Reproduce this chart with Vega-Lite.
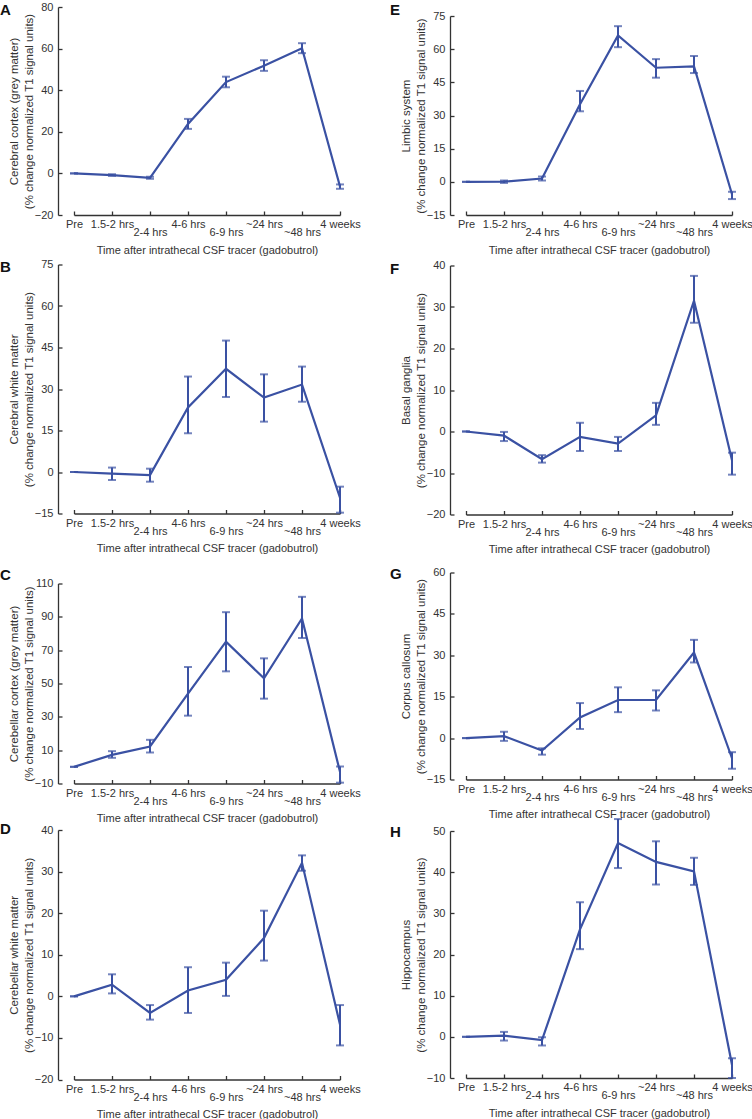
{
  "$schema": "https://vega.github.io/schema/vega-lite/v6.json",
  "background": "white",
  "padding": {"left": 0, "top": 1, "right": 0, "bottom": 0},
  "data": {"values": [
    {"panel": "A", "time": "Pre", "mean": 0, "lo": 0, "hi": 0},
    {"panel": "A", "time": "1.5-2 hrs", "mean": -0.8, "lo": -1.2, "hi": -0.4},
    {"panel": "A", "time": "2-4 hrs", "mean": -2.1, "lo": -2.6, "hi": -1.6},
    {"panel": "A", "time": "4-6 hrs", "mean": 23.8, "lo": 21.4, "hi": 26.2},
    {"panel": "A", "time": "6-9 hrs", "mean": 43.9, "lo": 41.4, "hi": 46.5},
    {"panel": "A", "time": "~24 hrs", "mean": 51.8, "lo": 49.3, "hi": 54.4},
    {"panel": "A", "time": "~48 hrs", "mean": 60.2, "lo": 57.8, "hi": 62.6},
    {"panel": "A", "time": "4 weeks", "mean": -6.3, "lo": -7.4, "hi": -5.3},
    {"panel": "B", "time": "Pre", "mean": 0, "lo": 0, "hi": 0},
    {"panel": "B", "time": "1.5-2 hrs", "mean": -0.6, "lo": -2.9, "hi": 1.6},
    {"panel": "B", "time": "2-4 hrs", "mean": -1.1, "lo": -3.5, "hi": 1.2},
    {"panel": "B", "time": "4-6 hrs", "mean": 23.3, "lo": 14.0, "hi": 34.5},
    {"panel": "B", "time": "6-9 hrs", "mean": 37.3, "lo": 27.1, "hi": 47.5},
    {"panel": "B", "time": "~24 hrs", "mean": 26.9, "lo": 18.2, "hi": 35.3},
    {"panel": "B", "time": "~48 hrs", "mean": 31.6, "lo": 25.4, "hi": 38.1},
    {"panel": "B", "time": "4 weeks", "mean": -9.3, "lo": -14.7, "hi": -5.3},
    {"panel": "C", "time": "Pre", "mean": 0, "lo": 0, "hi": 0},
    {"panel": "C", "time": "1.5-2 hrs", "mean": 7.2, "lo": 5.4, "hi": 9.4},
    {"panel": "C", "time": "2-4 hrs", "mean": 12.2, "lo": 8.6, "hi": 16.2},
    {"panel": "C", "time": "4-6 hrs", "mean": 43.9, "lo": 30.7, "hi": 59.9},
    {"panel": "C", "time": "6-9 hrs", "mean": 75.1, "lo": 57.3, "hi": 92.8},
    {"panel": "C", "time": "~24 hrs", "mean": 53.1, "lo": 40.9, "hi": 65.1},
    {"panel": "C", "time": "~48 hrs", "mean": 89.0, "lo": 77.3, "hi": 102.0},
    {"panel": "C", "time": "4 weeks", "mean": -3.0, "lo": -9.5, "hi": 0.2},
    {"panel": "D", "time": "Pre", "mean": 0, "lo": 0, "hi": 0},
    {"panel": "D", "time": "1.5-2 hrs", "mean": 2.8, "lo": 0.7, "hi": 5.3},
    {"panel": "D", "time": "2-4 hrs", "mean": -4.0, "lo": -5.6, "hi": -2.1},
    {"panel": "D", "time": "4-6 hrs", "mean": 1.4, "lo": -4.0, "hi": 7.0},
    {"panel": "D", "time": "6-9 hrs", "mean": 4.0, "lo": 0.1, "hi": 8.1},
    {"panel": "D", "time": "~24 hrs", "mean": 14.0, "lo": 8.6, "hi": 20.6},
    {"panel": "D", "time": "~48 hrs", "mean": 32.1, "lo": 30.2, "hi": 33.9},
    {"panel": "D", "time": "4 weeks", "mean": -6.8, "lo": -11.8, "hi": -2.1},
    {"panel": "E", "time": "Pre", "mean": 0, "lo": 0, "hi": 0},
    {"panel": "E", "time": "1.5-2 hrs", "mean": 0.1, "lo": -0.5, "hi": 0.6},
    {"panel": "E", "time": "2-4 hrs", "mean": 1.5, "lo": 0.6, "hi": 2.4},
    {"panel": "E", "time": "4-6 hrs", "mean": 35.1, "lo": 31.9, "hi": 41.1},
    {"panel": "E", "time": "6-9 hrs", "mean": 66.2, "lo": 60.9, "hi": 70.4},
    {"panel": "E", "time": "~24 hrs", "mean": 51.6, "lo": 47.1, "hi": 55.5},
    {"panel": "E", "time": "~48 hrs", "mean": 52.2, "lo": 49.2, "hi": 56.9},
    {"panel": "E", "time": "4 weeks", "mean": -5.6, "lo": -7.8, "hi": -4.5},
    {"panel": "F", "time": "Pre", "mean": 0, "lo": 0, "hi": 0},
    {"panel": "F", "time": "1.5-2 hrs", "mean": -1.0, "lo": -2.3, "hi": -0.1},
    {"panel": "F", "time": "2-4 hrs", "mean": -6.7, "lo": -7.5, "hi": -5.7},
    {"panel": "F", "time": "4-6 hrs", "mean": -1.3, "lo": -4.7, "hi": 2.1},
    {"panel": "F", "time": "6-9 hrs", "mean": -2.9, "lo": -4.7, "hi": -1.3},
    {"panel": "F", "time": "~24 hrs", "mean": 3.9, "lo": 1.6, "hi": 6.9},
    {"panel": "F", "time": "~48 hrs", "mean": 31.5, "lo": 26.2, "hi": 37.5},
    {"panel": "F", "time": "4 weeks", "mean": -6.9, "lo": -10.4, "hi": -5.1},
    {"panel": "G", "time": "Pre", "mean": 0, "lo": 0, "hi": 0},
    {"panel": "G", "time": "1.5-2 hrs", "mean": 0.7, "lo": -1.0, "hi": 2.3},
    {"panel": "G", "time": "2-4 hrs", "mean": -4.5, "lo": -6.0, "hi": -3.7},
    {"panel": "G", "time": "4-6 hrs", "mean": 7.5, "lo": 3.3, "hi": 12.7},
    {"panel": "G", "time": "6-9 hrs", "mean": 13.8, "lo": 9.4, "hi": 18.4},
    {"panel": "G", "time": "~24 hrs", "mean": 13.8, "lo": 10.0, "hi": 17.3},
    {"panel": "G", "time": "~48 hrs", "mean": 31.0, "lo": 27.4, "hi": 35.6},
    {"panel": "G", "time": "4 weeks", "mean": -7.3, "lo": -11.1, "hi": -5.1},
    {"panel": "H", "time": "Pre", "mean": 0, "lo": 0, "hi": 0},
    {"panel": "H", "time": "1.5-2 hrs", "mean": 0.3, "lo": -0.9, "hi": 1.2},
    {"panel": "H", "time": "2-4 hrs", "mean": -0.8, "lo": -2.1, "hi": -0.1},
    {"panel": "H", "time": "4-6 hrs", "mean": 26.1, "lo": 21.3, "hi": 32.7},
    {"panel": "H", "time": "6-9 hrs", "mean": 47.1, "lo": 41.0, "hi": 52.9},
    {"panel": "H", "time": "~24 hrs", "mean": 42.5, "lo": 37.0, "hi": 47.5},
    {"panel": "H", "time": "~48 hrs", "mean": 40.2, "lo": 36.9, "hi": 43.5},
    {"panel": "H", "time": "4 weeks", "mean": -6.8, "lo": -10.0, "hi": -5.2}
  ]},
  "hconcat": [
    {
      "spacing": 13.5,
      "vconcat": [
        {
          "spacing": 3.5,
          "vconcat": [
            {
              "width": 266, "height": 208,
              "title": {"text": "A", "dx": -74, "offset": -17},
              "transform": [{"filter": "datum.panel === 'A'"}],
              "encoding": {"x": {"field": "time", "type": "ordinal", "sort": ["Pre","1.5-2 hrs","2-4 hrs","4-6 hrs","6-9 hrs","~24 hrs","~48 hrs","4 weeks"], "scale": {"type": "point", "padding": 0}, "axis": {"title": "Time after intrathecal CSF tracer (gadobutrol)"}}},
              "layer": [
                {"mark": {"type": "errorbar", "ticks": true, "size": 8, "thickness": 2, "color": "#3A51A3"}, "encoding": {"y": {"field": "lo", "type": "quantitative", "scale": {"domain": [-20, 80], "nice": false, "zero": false}, "axis": {"values": [-20, 0, 20, 40, 60, 80], "title": ["Cerebral cortex (grey matter)", "(% change normalized T1 signal units)"]}}, "y2": {"field": "hi"}}},
                {"mark": {"type": "line", "color": "#3A51A3", "strokeWidth": 2.2}, "encoding": {"y": {"field": "mean", "type": "quantitative", "axis": {"values": [-20, 0, 20, 40, 60, 80], "title": ["Cerebral cortex (grey matter)", "(% change normalized T1 signal units)"]}}}}
              ]
            },
            {
              "width": 266, "height": 249,
              "title": {"text": "B", "dx": -74, "offset": -16},
              "transform": [{"filter": "datum.panel === 'B'"}],
              "encoding": {"x": {"field": "time", "type": "ordinal", "sort": ["Pre","1.5-2 hrs","2-4 hrs","4-6 hrs","6-9 hrs","~24 hrs","~48 hrs","4 weeks"], "scale": {"type": "point", "padding": 0}, "axis": {"title": "Time after intrathecal CSF tracer (gadobutrol)"}}},
              "layer": [
                {"mark": {"type": "errorbar", "ticks": true, "size": 8, "thickness": 2, "color": "#3A51A3"}, "encoding": {"y": {"field": "lo", "type": "quantitative", "scale": {"domain": [-15, 75], "nice": false, "zero": false}, "axis": {"values": [-15, 0, 15, 30, 45, 60, 75], "title": ["Cerebral white matter", "(% change normalized T1 signal units)"]}}, "y2": {"field": "hi"}}},
                {"mark": {"type": "line", "color": "#3A51A3", "strokeWidth": 2.2}, "encoding": {"y": {"field": "mean", "type": "quantitative", "axis": {"values": [-15, 0, 15, 30, 45, 60, 75], "title": ["Cerebral white matter", "(% change normalized T1 signal units)"]}}}}
              ]
            }
          ]
        },
        {
          "spacing": -1.5,
          "vconcat": [
            {
              "width": 266, "height": 200,
              "title": {"text": "C", "dx": -74, "offset": -5},
              "transform": [{"filter": "datum.panel === 'C'"}],
              "encoding": {"x": {"field": "time", "type": "ordinal", "sort": ["Pre","1.5-2 hrs","2-4 hrs","4-6 hrs","6-9 hrs","~24 hrs","~48 hrs","4 weeks"], "scale": {"type": "point", "padding": 0}, "axis": {"title": "Time after intrathecal CSF tracer (gadobutrol)"}}},
              "layer": [
                {"mark": {"type": "errorbar", "ticks": true, "size": 8, "thickness": 2, "color": "#3A51A3"}, "encoding": {"y": {"field": "lo", "type": "quantitative", "scale": {"domain": [-10, 110], "nice": false, "zero": false}, "axis": {"values": [-10, 10, 30, 50, 70, 90, 110], "title": ["Cerebellar cortex (grey matter)", "(% change normalized T1 signal units)"]}}, "y2": {"field": "hi"}}},
                {"mark": {"type": "line", "color": "#3A51A3", "strokeWidth": 2.2}, "encoding": {"y": {"field": "mean", "type": "quantitative", "axis": {"values": [-10, 10, 30, 50, 70, 90, 110], "title": ["Cerebellar cortex (grey matter)", "(% change normalized T1 signal units)"]}}}}
              ]
            },
            {
              "width": 266, "height": 249.5,
              "title": {"text": "D", "dx": -74, "offset": -13},
              "transform": [{"filter": "datum.panel === 'D'"}],
              "encoding": {"x": {"field": "time", "type": "ordinal", "sort": ["Pre","1.5-2 hrs","2-4 hrs","4-6 hrs","6-9 hrs","~24 hrs","~48 hrs","4 weeks"], "scale": {"type": "point", "padding": 0}, "axis": {"title": "Time after intrathecal CSF tracer (gadobutrol)"}}},
              "layer": [
                {"mark": {"type": "errorbar", "ticks": true, "size": 8, "thickness": 2, "color": "#3A51A3"}, "encoding": {"y": {"field": "lo", "type": "quantitative", "scale": {"domain": [-20, 40], "nice": false, "zero": false}, "axis": {"values": [-20, -10, 0, 10, 20, 30, 40], "title": ["Cerebellar white matter", "(% change normalized T1 signal units)"]}}, "y2": {"field": "hi"}}},
                {"mark": {"type": "line", "color": "#3A51A3", "strokeWidth": 2.2}, "encoding": {"y": {"field": "mean", "type": "quantitative", "axis": {"values": [-20, -10, 0, 10, 20, 30, 40], "title": ["Cerebellar white matter", "(% change normalized T1 signal units)"]}}}}
              ]
            }
          ]
        }
      ]
    },
    {
      "spacing": 11.5,
      "vconcat": [
        {
          "spacing": 4.5,
          "vconcat": [
            {
              "width": 266, "height": 208,
              "title": {"text": "E", "dx": -76, "offset": -11},
              "transform": [{"filter": "datum.panel === 'E'"}],
              "encoding": {"x": {"field": "time", "type": "ordinal", "sort": ["Pre","1.5-2 hrs","2-4 hrs","4-6 hrs","6-9 hrs","~24 hrs","~48 hrs","4 weeks"], "scale": {"type": "point", "padding": 0}, "axis": {"title": "Time after intrathecal CSF tracer (gadobutrol)"}}},
              "layer": [
                {"mark": {"type": "errorbar", "ticks": true, "size": 8, "thickness": 2, "color": "#3A51A3"}, "encoding": {"y": {"field": "lo", "type": "quantitative", "scale": {"domain": [-15, 75], "nice": false, "zero": false, "range": [208, 9]}, "axis": {"values": [-15, 0, 15, 30, 45, 60, 75], "title": ["Limbic system", "(% change normalized T1 signal units)"]}}, "y2": {"field": "hi"}}},
                {"mark": {"type": "line", "color": "#3A51A3", "strokeWidth": 2.2}, "encoding": {"y": {"field": "mean", "type": "quantitative", "axis": {"values": [-15, 0, 15, 30, 45, 60, 75], "title": ["Limbic system", "(% change normalized T1 signal units)"]}}}}
              ]
            },
            {
              "width": 266, "height": 249,
              "title": {"text": "F", "dx": -76, "offset": -17},
              "transform": [{"filter": "datum.panel === 'F'"}],
              "encoding": {"x": {"field": "time", "type": "ordinal", "sort": ["Pre","1.5-2 hrs","2-4 hrs","4-6 hrs","6-9 hrs","~24 hrs","~48 hrs","4 weeks"], "scale": {"type": "point", "padding": 0}, "axis": {"title": "Time after intrathecal CSF tracer (gadobutrol)"}}},
              "layer": [
                {"mark": {"type": "errorbar", "ticks": true, "size": 8, "thickness": 2, "color": "#3A51A3"}, "encoding": {"y": {"field": "lo", "type": "quantitative", "scale": {"domain": [-20, 40], "nice": false, "zero": false}, "axis": {"values": [-20, -10, 0, 10, 20, 30, 40], "title": ["Basal ganglia", "(% change normalized T1 signal units)"]}}, "y2": {"field": "hi"}}},
                {"mark": {"type": "line", "color": "#3A51A3", "strokeWidth": 2.2}, "encoding": {"y": {"field": "mean", "type": "quantitative", "axis": {"values": [-20, -10, 0, 10, 20, 30, 40], "title": ["Basal ganglia", "(% change normalized T1 signal units)"]}}}}
              ]
            }
          ]
        },
        {
          "spacing": -1.5,
          "vconcat": [
            {
              "width": 266, "height": 207,
              "title": {"text": "G", "dx": -76, "offset": -15},
              "transform": [{"filter": "datum.panel === 'G'"}],
              "encoding": {"x": {"field": "time", "type": "ordinal", "sort": ["Pre","1.5-2 hrs","2-4 hrs","4-6 hrs","6-9 hrs","~24 hrs","~48 hrs","4 weeks"], "scale": {"type": "point", "padding": 0}, "axis": {"title": "Time after intrathecal CSF tracer (gadobutrol)"}}},
              "layer": [
                {"mark": {"type": "errorbar", "ticks": true, "size": 8, "thickness": 2, "color": "#3A51A3"}, "encoding": {"y": {"field": "lo", "type": "quantitative", "scale": {"domain": [-15, 60], "nice": false, "zero": false}, "axis": {"values": [-15, 0, 15, 30, 45, 60], "title": ["Corpus callosum", "(% change normalized T1 signal units)"]}}, "y2": {"field": "hi"}}},
                {"mark": {"type": "line", "color": "#3A51A3", "strokeWidth": 2.2}, "encoding": {"y": {"field": "mean", "type": "quantitative", "axis": {"values": [-15, 0, 15, 30, 45, 60], "title": ["Corpus callosum", "(% change normalized T1 signal units)"]}}}}
              ]
            },
            {
              "width": 266, "height": 247,
              "title": {"text": "H", "dx": -76, "offset": -22},
              "transform": [{"filter": "datum.panel === 'H'"}],
              "encoding": {"x": {"field": "time", "type": "ordinal", "sort": ["Pre","1.5-2 hrs","2-4 hrs","4-6 hrs","6-9 hrs","~24 hrs","~48 hrs","4 weeks"], "scale": {"type": "point", "padding": 0}, "axis": {"title": "Time after intrathecal CSF tracer (gadobutrol)"}}},
              "layer": [
                {"mark": {"type": "errorbar", "ticks": true, "size": 8, "thickness": 2, "color": "#3A51A3"}, "encoding": {"y": {"field": "lo", "type": "quantitative", "scale": {"domain": [-10, 50], "nice": false, "zero": false}, "axis": {"values": [-10, 0, 10, 20, 30, 40, 50], "title": ["Hippocampus", "(% change normalized T1 signal units)"]}}, "y2": {"field": "hi"}}},
                {"mark": {"type": "line", "color": "#3A51A3", "strokeWidth": 2.2}, "encoding": {"y": {"field": "mean", "type": "quantitative", "axis": {"values": [-10, 0, 10, 20, 30, 40, 50], "title": ["Hippocampus", "(% change normalized T1 signal units)"]}}}}
              ]
            }
          ]
        }
      ]
    }
  ],
  "spacing": 29,
  "config": {
    "font": "Liberation Sans",
    "view": {"stroke": null},
    "title": {"anchor": "start", "frame": "group", "orient": "top", "baseline": "top", "fontSize": 15, "fontWeight": "bold", "color": "#111111", "font": "Liberation Sans"},
    "axis": {"grid": false, "domainColor": "#333333", "tickColor": "#333333", "labelColor": "#333333", "titleColor": "#333333", "labelFontSize": 11, "titleFontSize": 11, "titleFontWeight": "normal", "domainWidth": 1.3, "tickWidth": 1.3, "tickSize": -4, "labelFont": "Liberation Sans", "titleFont": "Liberation Sans"},
    "axisY": {"offset": 16, "labelPadding": 9, "titlePadding": 0, "titleLineHeight": 15, "titleFontSize": 11.5},
    "axisX": {"labelAngle": 0, "labelBaseline": "top", "labelPadding": 7.5, "labelLineHeight": 8, "labelOverlap": false, "titlePadding": 6.5, "labelExpr": "indexof(['2-4 hrs','6-9 hrs','~48 hrs'], datum.value) >= 0 ? ['', datum.value] : datum.value"}
  }
}
